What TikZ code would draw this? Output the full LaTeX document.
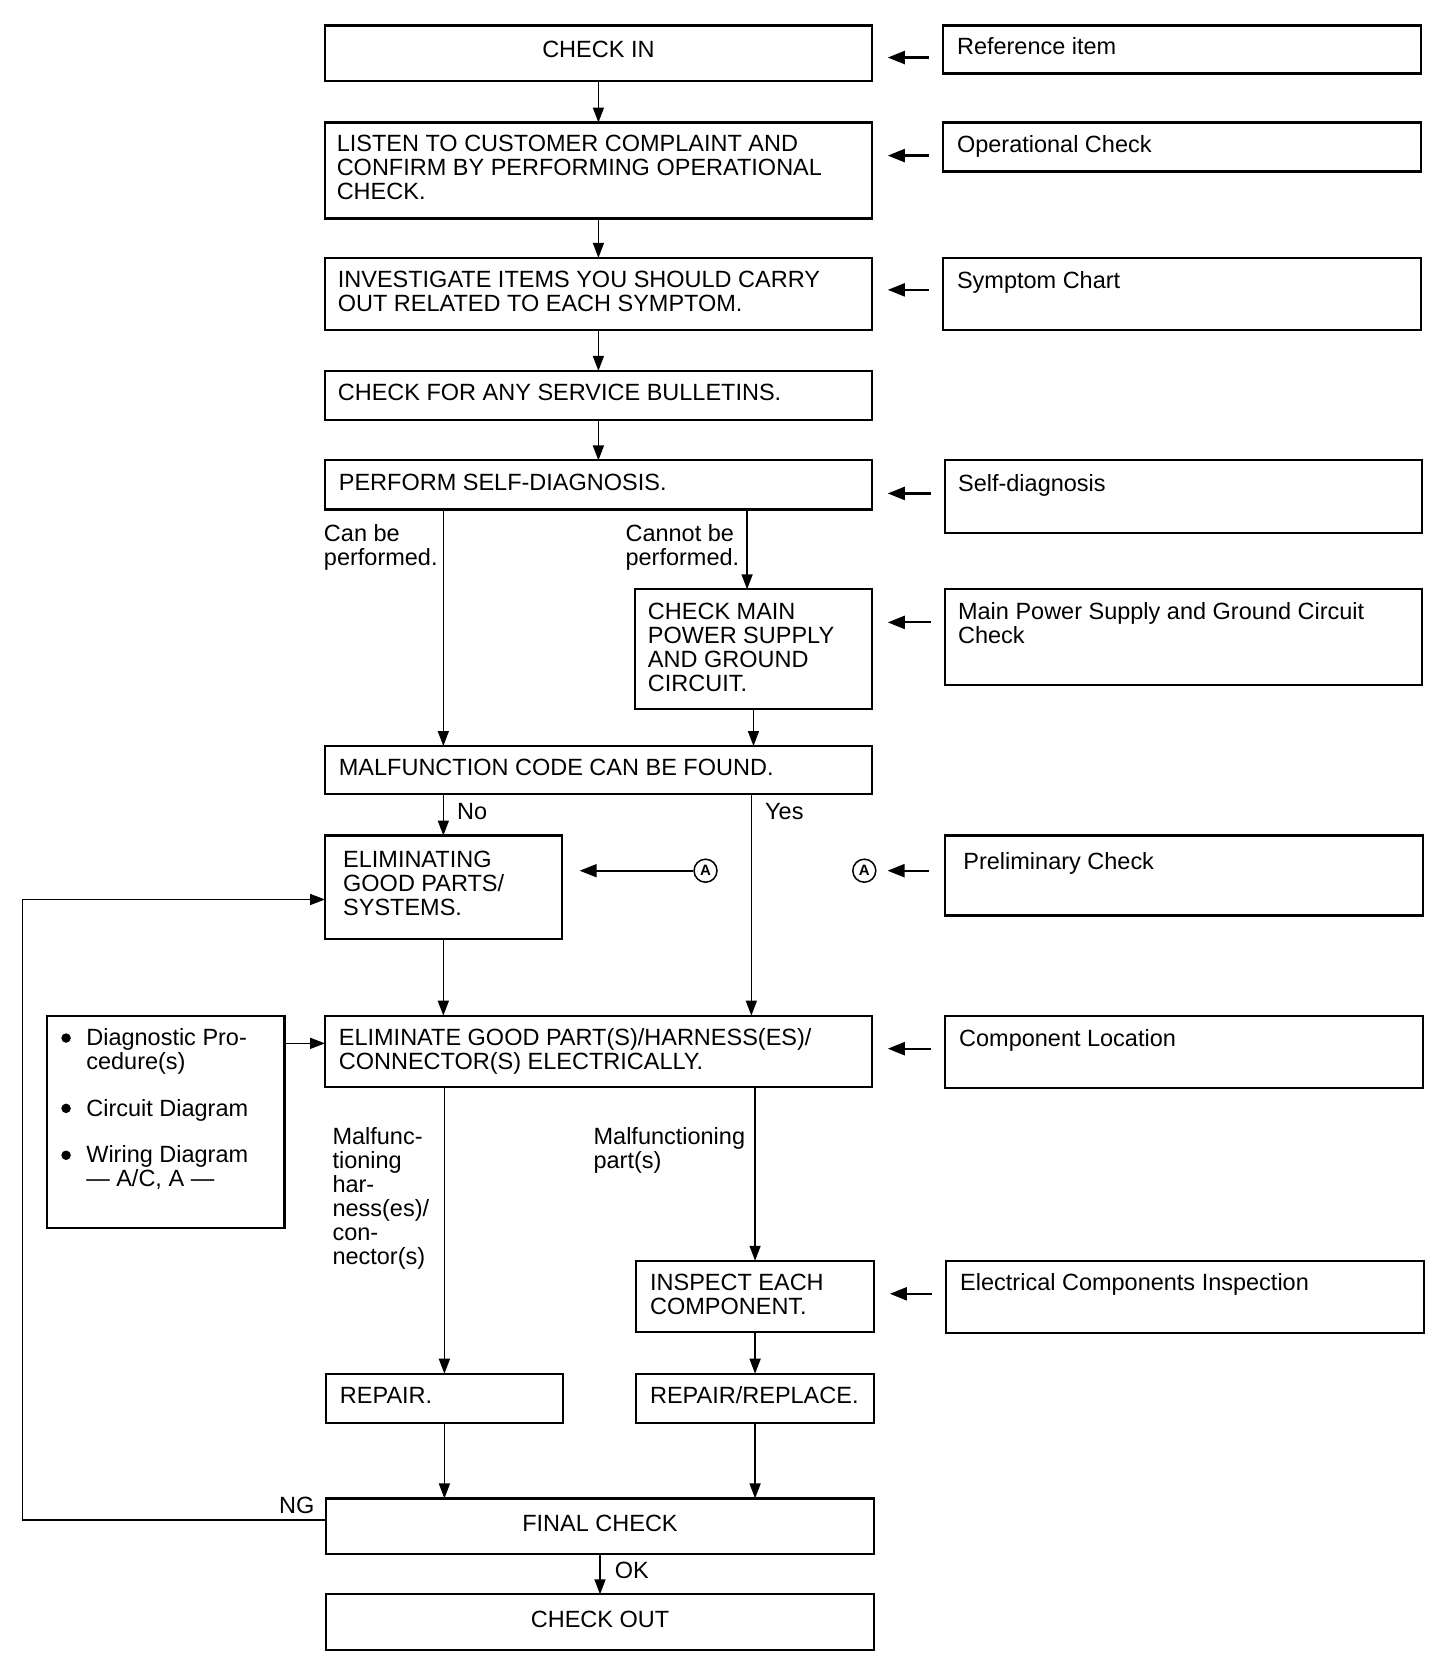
\documentclass[tikz,border=0pt]{standalone}
\usepackage{fontspec}
\setmainfont{Liberation Sans}
\usetikzlibrary{arrows.meta,fit}
\newcommand\capr{\rule{0pt}{16.8pt}}
\newcommand\mybx[5]{\node[box, fit={(#2,#3) (#4,#5)}] (#1) {};}
\newcommand\mytx[4]{\node[txt] (#1) at (#2,#3-7.9) {\capr#4};}
\newcommand\myctx[4]{\node[ctxt] (#1) at (#2,#3-7.9) {\capr#4};}
\begin{document}
\begin{tikzpicture}[x=1.066pt,y=-1.066pt,
 box/.style={draw, line width=2.2pt, inner sep=0pt, outer sep=0pt},
 txt/.style={inner sep=0pt, outer sep=0pt, anchor=north west, align=left, font=\fontsize{23.5}{24}\selectfont},
 ctxt/.style={txt, anchor=north, align=center},
 flow/.style={line width=1.5pt, -{Triangle[length=15pt,width=11pt]}},
 refarr/.style={line width=2.2pt, -{Triangle[length=17pt,width=13pt]}, shorten <=14.5pt, shorten >=16pt},
 circA/.style={circle, draw, line width=1.5pt, minimum size=23pt, inner sep=0pt, font=\fontsize{15}{15}\selectfont\bfseries},
 dot/.style={circle, fill, minimum size=9.5pt, inner sep=0pt}
]
\useasboundingbox (0,0) rectangle (1366,1567);

% main column boxes
\mybx{checkin}{305}{24}{818}{76}
\mybx{listen}{305}{115}{818}{205}
\mybx{invest}{305}{242}{818}{310}
\mybx{bullet}{305}{348}{818}{394}
\mybx{perform}{305}{432}{818}{478}
\mybx{cmain}{596}{553}{818}{665}
\mybx{malf}{305}{700}{818}{745}
\mybx{elimg}{305}{784}{527}{881}
\mybx{elim}{305}{953}{818}{1020}
\mybx{diag}{44}{953}{267}{1152}
\mybx{inspect}{597}{1183}{820}{1250}
\mybx{repair}{306}{1289}{528}{1335}
\mybx{rr}{597}{1289}{820}{1335}
\mybx{final}{306}{1406}{820}{1458}
\mybx{checkout}{306}{1496}{820}{1548}

% reference boxes
\mybx{r1}{885}{24}{1333}{69}
\mybx{r2}{885}{115}{1333}{161}
\mybx{r3}{885}{242}{1333}{310}
\mybx{r4}{887}{432}{1334}{500}
\mybx{r5}{887}{553}{1334}{643}
\mybx{r6}{887}{784}{1335}{859}
\mybx{r7}{887}{953}{1335}{1021}
\mybx{r8}{888}{1183}{1336}{1251}

% texts
\myctx{checkin-t}{561.5}{46}{CHECK IN}
\mytx{listen-t}{316}{134}{LISTEN TO CUSTOMER COMPLAINT AND\\CONFIRM BY PERFORMING OPERATIONAL\\CHECK.}
\mytx{invest-t}{317}{262}{INVESTIGATE ITEMS YOU SHOULD CARRY\\OUT RELATED TO EACH SYMPTOM.}
\mytx{bullet-t}{317}{368}{CHECK FOR ANY SERVICE BULLETINS.}
\mytx{perform-t}{318}{452}{PERFORM SELF-DIAGNOSIS.}
\mytx{cmain-t}{608}{573}{CHECK MAIN\\POWER SUPPLY\\AND GROUND\\CIRCUIT.}
\mytx{malf-t}{318}{720}{MALFUNCTION CODE CAN BE FOUND.}
\mytx{elimg-t}{322}{806}{ELIMINATING\\GOOD PARTS/\\SYSTEMS.}
\mytx{elim-t}{318}{973}{ELIMINATE GOOD PART(S)/HARNESS(ES)/\\CONNECTOR(S) ELECTRICALLY.}
\mytx{inspect-t}{610}{1203}{INSPECT EACH\\COMPONENT.}
\mytx{repair-t}{319}{1309}{REPAIR.}
\mytx{rr-t}{610}{1309}{REPAIR/REPLACE.}
\myctx{final-t}{563}{1429}{FINAL CHECK}
\myctx{checkout-t}{563}{1519}{CHECK OUT}

\mytx{r1-t}{898}{43}{Reference item}
\mytx{r2-t}{898}{135}{Operational Check}
\mytx{r3-t}{898}{263}{Symptom Chart}
\mytx{r4-t}{899}{453}{Self-diagnosis}
\mytx{r5-t}{899}{573}{Main Power Supply and Ground Circuit\\Check}
\mytx{r6-t}{904}{808}{Preliminary Check}
\mytx{r7-t}{900}{974}{Component Location}
\mytx{r8-t}{901}{1203}{Electrical Components Inspection}

% diag box contents
\node[dot] (b1) at (62,974) {};
\node[dot] (b2) at (62,1040) {};
\node[dot] (b3) at (62,1084) {};
\mytx{d1}{81}{973}{Diagnostic Pro-\\cedure(s)}
\mytx{d2}{81}{1040}{Circuit Diagram}
\mytx{d3}{81}{1083}{Wiring Diagram\\— A/C, A —}

% labels
\mytx{lcan}{304}{500}{Can be\\performed.}
\mytx{lcannot}{587}{500}{Cannot be\\performed.}
\mytx{lno}{429}{761}{No}
\mytx{lyes}{718}{761}{Yes}
\mytx{lharn}{312}{1066}{Malfunc-\\tioning\\har-\\ness(es)/\\con-\\nector(s)}
\mytx{lpart}{557}{1066}{Malfunctioning\\part(s)}
\mytx{lng}{262}{1412}{NG}
\mytx{lok}{577}{1473}{OK}

% circled A
\node[circA] (ca1) at (662,817) {A};
\node[circA] (ca2) at (811,817) {A};

% coordinates
\coordinate (xa) at (416,0);
\coordinate (xb) at (701,0);
\coordinate (xd) at (705,0);
\coordinate (y1) at (0,54);
\coordinate (y2) at (0,146);
\coordinate (y3) at (0,272);
\coordinate (y4) at (0,463);
\coordinate (y5) at (0,584);
\coordinate (y7) at (0,984);
\coordinate (y8) at (0,1214);
\coordinate (yd) at (0,979);
\coordinate (ng1) at (21,1426);
\coordinate (ng2) at (21,844);

% main flow
\draw[flow] (checkin.south) -- (listen.north);
\draw[flow] (listen.south) -- (invest.north);
\draw[flow] (invest.south) -- (bullet.north);
\draw[flow] (bullet.south) -- (perform.north);
\draw[flow] (perform.south -| xa) -- (malf.north -| xa);
\draw[flow] (perform.south -| xb) -- (cmain.north -| xb);
\draw[flow] (cmain.south) -- (malf.north -| cmain.south);
\draw[flow] (malf.south -| elimg.north) -- (elimg.north);
\draw[flow] (malf.south -| xd) -- (elim.north -| xd);
\draw[flow] (elimg.south) -- (elim.north -| elimg.south);
\draw[flow] (diag.east |- yd) -- (elim.west |- yd);
\draw[flow] (elim.south -| repair.north) -- (repair.north);
\draw[flow] (elim.south -| inspect.north) -- (inspect.north);
\draw[flow] (inspect.south) -- (rr.north);
\draw[flow] (repair.south) -- (final.north -| repair.south);
\draw[flow] (rr.south) -- (final.north -| rr.south);
\draw[flow] (final.south) -- (checkout.north);
\draw[flow] (final.west |- ng1) -- (ng1) -- (ng2) -- (elimg.west |- ng2);
\draw[line width=1.7pt, -{Triangle[length=17pt,width=13pt]}, shorten >=18pt] (ca1.west) -- (elimg.east |- ca1);

% reference arrows
\draw[refarr] (r1.west |- y1) -- (checkin.east |- y1);
\draw[refarr] (r2.west |- y2) -- (listen.east |- y2);
\draw[refarr] (r3.west |- y3) -- (invest.east |- y3);
\draw[refarr] (r4.west |- y4) -- (perform.east |- y4);
\draw[refarr] (r5.west |- y5) -- (cmain.east |- y5);
\draw[line width=2.2pt, -{Triangle[length=17pt,width=13pt]}, shorten <=16pt, shorten >=11pt] (r6.west |- ca2) -- (ca2.east);
\draw[refarr] (r7.west |- y7) -- (elim.east |- y7);
\draw[refarr] (r8.west |- y8) -- (inspect.east |- y8);
\end{tikzpicture}
\end{document}
